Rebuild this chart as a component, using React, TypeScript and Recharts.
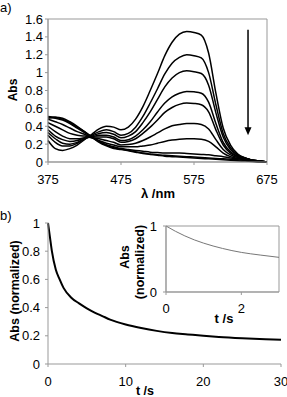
import { LineChart, Line, XAxis, YAxis, ReferenceArea, ReferenceLine, Label } from 'recharts';

const font = 'Arial, "Liberation Sans", sans-serif';

// panel a: spectra, one array per scan (absorbance at each wavelength)
const wavelengths = [375, 385, 395, 405, 415, 425, 435, 445, 455, 465, 475, 485, 495, 505, 515, 525, 535, 545, 555, 565, 575, 585, 595, 605, 615, 625, 635, 645, 655, 665, 675];
const s1 = [0.24, 0.15, 0.13, 0.15, 0.19, 0.25, 0.31, 0.37, 0.40, 0.39, 0.36, 0.39, 0.48, 0.62, 0.80, 0.99, 1.19, 1.34, 1.43, 1.46, 1.45, 1.42, 1.22, 0.77, 0.38, 0.19, 0.09, 0.045, 0.02, 0.01, 0];
const s2 = [0.30, 0.22, 0.18, 0.18, 0.21, 0.26, 0.30, 0.34, 0.36, 0.34, 0.30, 0.32, 0.39, 0.51, 0.66, 0.82, 0.985, 1.105, 1.17, 1.20, 1.19, 1.165, 1.0, 0.64, 0.32, 0.16, 0.08, 0.045, 0.02, 0.01, 0];
const s3 = [0.33, 0.26, 0.21, 0.20, 0.22, 0.26, 0.29, 0.32, 0.33, 0.31, 0.27, 0.29, 0.34, 0.44, 0.56, 0.70, 0.84, 0.94, 1.00, 1.02, 1.01, 0.99, 0.86, 0.55, 0.28, 0.14, 0.075, 0.045, 0.02, 0.01, 0];
const s4 = [0.36, 0.29, 0.25, 0.23, 0.24, 0.27, 0.28, 0.30, 0.30, 0.28, 0.24, 0.25, 0.29, 0.36, 0.45, 0.56, 0.66, 0.73, 0.77, 0.79, 0.785, 0.77, 0.67, 0.43, 0.22, 0.115, 0.065, 0.04, 0.02, 0.01, 0];
const s5 = [0.40, 0.34, 0.29, 0.26, 0.26, 0.27, 0.28, 0.28, 0.28, 0.26, 0.22, 0.23, 0.26, 0.32, 0.39, 0.47, 0.555, 0.61, 0.645, 0.66, 0.655, 0.64, 0.56, 0.36, 0.19, 0.10, 0.06, 0.04, 0.02, 0.01, 0];
const s6 = [0.44, 0.40, 0.36, 0.32, 0.30, 0.29, 0.27, 0.26, 0.24, 0.22, 0.19, 0.195, 0.21, 0.24, 0.28, 0.325, 0.37, 0.405, 0.42, 0.43, 0.43, 0.42, 0.37, 0.25, 0.14, 0.08, 0.05, 0.035, 0.02, 0.01, 0];
const s7 = [0.48, 0.45, 0.42, 0.38, 0.34, 0.31, 0.27, 0.24, 0.21, 0.19, 0.17, 0.17, 0.17, 0.18, 0.19, 0.21, 0.23, 0.245, 0.255, 0.26, 0.26, 0.255, 0.23, 0.17, 0.10, 0.06, 0.04, 0.03, 0.015, 0.005, 0];
const s8 = [0.50, 0.49, 0.47, 0.43, 0.38, 0.33, 0.28, 0.23, 0.19, 0.17, 0.15, 0.14, 0.13, 0.12, 0.11, 0.105, 0.10, 0.10, 0.10, 0.095, 0.09, 0.085, 0.08, 0.07, 0.06, 0.045, 0.035, 0.025, 0.015, 0.005, 0];
const s9 = [0.51, 0.50, 0.48, 0.44, 0.39, 0.34, 0.28, 0.23, 0.19, 0.16, 0.145, 0.13, 0.115, 0.10, 0.09, 0.08, 0.075, 0.07, 0.065, 0.06, 0.055, 0.05, 0.045, 0.04, 0.035, 0.03, 0.025, 0.02, 0.01, 0.005, 0];
const s10 = [0.49, 0.50, 0.49, 0.45, 0.40, 0.34, 0.28, 0.22, 0.18, 0.15, 0.14, 0.125, 0.11, 0.095, 0.085, 0.075, 0.065, 0.06, 0.055, 0.05, 0.045, 0.04, 0.035, 0.03, 0.025, 0.02, 0.015, 0.01, 0.005, 0, 0];
const spectra = [s1, s2, s3, s4, s5, s6, s7, s8, s9, s10];
const wlTicks = [375, 475, 575, 675];
const absTicks = [0, 0.2, 0.4, 0.6, 0.8, 1, 1.2, 1.4, 1.6];

// panel b: normalized decay
const decayTime = [0, 0.25, 0.5, 1, 1.5, 2, 3, 4, 5, 6, 7, 8, 10, 12, 14, 16, 18, 20, 22, 25, 28, 30];
const decayAbs = [1.0, 0.9, 0.8, 0.67, 0.6, 0.54, 0.47, 0.43, 0.395, 0.365, 0.34, 0.315, 0.28, 0.255, 0.235, 0.22, 0.21, 0.2, 0.192, 0.183, 0.176, 0.172];
const timeTicks = [0, 10, 20, 30];
const normTicks = [0, 0.2, 0.4, 0.6, 0.8, 1];

// inset: first seconds
const insetTime = [0, 0.25, 0.5, 0.75, 1, 1.5, 2, 2.5, 3];
const insetAbs = [1, 0.92, 0.85, 0.79, 0.74, 0.66, 0.6, 0.56, 0.525];

const spectraRows = wavelengths.map((wl, i) => {
  const row: Record<string, number> = { wl };
  spectra.forEach((s, k) => {
    row[`s${k}`] = s[i];
  });
  return row;
});
const decayRows = decayTime.map((t, i) => ({ t, a: decayAbs[i] }));
const insetRows = insetTime.map((t, i) => ({ t, a: insetAbs[i] }));

const tickStyle = { fill: '#000', fontSize: 13, fontFamily: font };
const axisGray = '#999';

const rotText = (x: number, y: number, text: string, size: number) => (
  <text
    x={x}
    y={y}
    transform={`rotate(-90 ${x} ${y})`}
    textAnchor="middle"
    dominantBaseline="central"
    fontFamily={font}
    fontWeight="bold"
    fontSize={size}
    fill="#000"
  >
    {text}
  </text>
);

const flatText = (x: number, y: number, text: string, size: number) => (
  <text x={x} y={y} textAnchor="middle" dominantBaseline="central" fontFamily={font} fontWeight="bold" fontSize={size} fill="#000">
    {text}
  </text>
);

const Arrow = (props: any) => {
  const { x1, y1, x2, y2 } = props;
  return (
    <g>
      <line x1={x1} y1={y1} x2={x2} y2={y2 - 6} stroke="#000" strokeWidth={1.5} />
      <polygon points={`${x2 - 3.5},${y2 - 8} ${x2 + 3.5},${y2 - 8} ${x2},${y2}`} fill="#000" />
    </g>
  );
};

const App = () => {
  return (
    <div style={{ position: 'absolute', left: 0, top: 0, width: 287, height: 397, background: '#fff', fontFamily: font }}>
      <div style={{ position: 'absolute', left: 0, top: 0, fontSize: 13 }}>a)</div>
      <div style={{ position: 'absolute', left: 0, top: 208, fontSize: 13 }}>b)</div>

      <div style={{ position: 'absolute', left: 0, top: 0 }}>
        <LineChart width={287} height={200} data={spectraRows} margin={{ top: 19, right: 20, bottom: 0, left: 0 }}>
          <XAxis
            type="number"
            dataKey="wl"
            domain={[375, 675]}
            ticks={wlTicks}
            interval={0}
            stroke={axisGray}
            tick={tickStyle}
            tickSize={3}
            tickMargin={10}
            height={38}
          >
            <Label content={() => flatText(158, 193, 'λ /nm', 13)} />
          </XAxis>
          <YAxis
            type="number"
            domain={[0, 1.6]}
            ticks={absTicks}
            interval={0}
            stroke={axisGray}
            tick={tickStyle}
            tickSize={3}
            tickMargin={2}
            width={48}
          >
            <Label content={() => rotText(13, 90, 'Abs', 12)} />
          </YAxis>
          <ReferenceArea x1={375} x2={675} y1={0} y2={1.6} fill="none" stroke={axisGray} strokeWidth={1} />
          {spectra.map((_, k) => (
            <Line
              key={k}
              type="monotone"
              dataKey={`s${k}`}
              stroke="#000"
              strokeWidth={1.5}
              dot={false}
              isAnimationActive={false}
            />
          ))}
          <ReferenceLine segment={[{ x: 649, y: 1.48 }, { x: 649, y: 0.3 }]} shape={Arrow} />
        </LineChart>
      </div>

      <div style={{ position: 'absolute', left: 0, top: 200 }}>
        <LineChart width={287} height={197} data={decayRows} margin={{ top: 23, right: 6, bottom: 0, left: 0 }}>
          <XAxis
            type="number"
            dataKey="t"
            domain={[0, 30]}
            ticks={timeTicks}
            interval={0}
            stroke={axisGray}
            tick={tickStyle}
            tickSize={3}
            tickMargin={10}
            height={33}
          >
            <Label content={() => flatText(145, 191, 't /s', 12.5)} />
          </XAxis>
          <YAxis
            type="number"
            domain={[0, 1]}
            ticks={normTicks}
            interval={0}
            stroke={axisGray}
            tick={tickStyle}
            tickSize={3}
            tickMargin={5}
            width={48}
          >
            <Label content={() => rotText(15, 91, 'Abs (normalized)', 12.5)} />
          </YAxis>
          <Line type="monotone" dataKey="a" stroke="#000" strokeWidth={2} dot={false} isAnimationActive={false} />
        </LineChart>
      </div>

      <div style={{ position: 'absolute', left: 100, top: 200 }}>
        <LineChart width={187} height={130} data={insetRows} margin={{ top: 26, right: 8, bottom: 0, left: 0 }}>
          <XAxis
            type="number"
            dataKey="t"
            domain={[0, 3]}
            ticks={[0, 2]}
            interval={0}
            stroke={axisGray}
            tick={tickStyle}
            tickSize={3}
            tickMargin={9}
            height={38}
          >
            <Label content={() => flatText(124, 118, 't /s', 13)} />
          </XAxis>
          <YAxis
            type="number"
            domain={[0, 1]}
            ticks={[0, 1]}
            interval={0}
            stroke={axisGray}
            tick={tickStyle}
            tickSize={3}
            tickMargin={6}
            width={66}
          >
            <Label
              content={() => (
                <g>
                  {rotText(25, 57, 'Abs', 12.5)}
                  {rotText(40, 62, '(normalized)', 12.5)}
                </g>
              )}
            />
          </YAxis>
          <ReferenceArea x1={0} x2={3} y1={0} y2={1} fill="none" stroke={axisGray} strokeWidth={1} />
          <Line type="monotone" dataKey="a" stroke="#777" strokeWidth={1} dot={false} isAnimationActive={false} />
        </LineChart>
      </div>
    </div>
  );
};

export default App;
